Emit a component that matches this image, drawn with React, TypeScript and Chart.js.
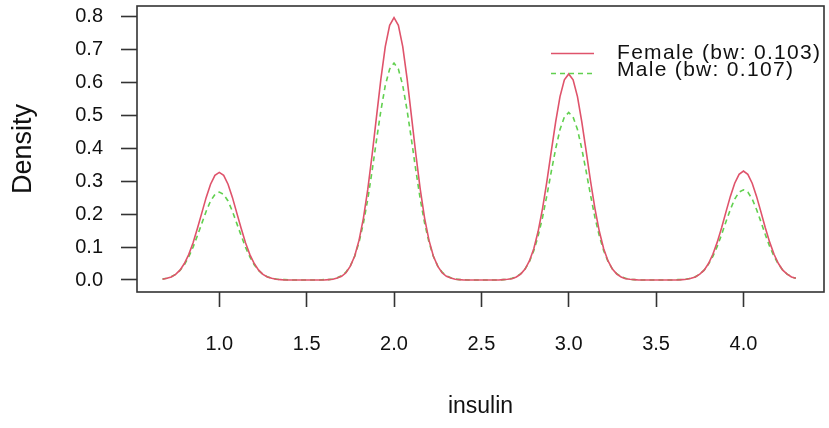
import React, { useEffect, useRef } from "react";
import { Chart, registerables } from "chart.js";

Chart.register(...registerables);

// Sampling grid of the density estimates (insulin)
const xGrid = [
  0.675, 0.7, 0.725, 0.75, 0.775, 0.8, 0.825, 0.85, 0.875, 0.9,
  0.925, 0.95, 0.975, 1.0, 1.025, 1.05, 1.075, 1.1, 1.125, 1.15,
  1.175, 1.2, 1.225, 1.25, 1.275, 1.3, 1.325, 1.35, 1.375, 1.4,
  1.425, 1.45, 1.475, 1.5, 1.525, 1.55, 1.575, 1.6, 1.625, 1.65,
  1.675, 1.7, 1.725, 1.75, 1.775, 1.8, 1.825, 1.85, 1.875, 1.9,
  1.925, 1.95, 1.975, 2.0, 2.025, 2.05, 2.075, 2.1, 2.125, 2.15,
  2.175, 2.2, 2.225, 2.25, 2.275, 2.3, 2.325, 2.35, 2.375, 2.4,
  2.425, 2.45, 2.475, 2.5, 2.525, 2.55, 2.575, 2.6, 2.625, 2.65,
  2.675, 2.7, 2.725, 2.75, 2.775, 2.8, 2.825, 2.85, 2.875, 2.9,
  2.925, 2.95, 2.975, 3.0, 3.025, 3.05, 3.075, 3.1, 3.125, 3.15,
  3.175, 3.2, 3.225, 3.25, 3.275, 3.3, 3.325, 3.35, 3.375, 3.4,
  3.425, 3.45, 3.475, 3.5, 3.525, 3.55, 3.575, 3.6, 3.625, 3.65,
  3.675, 3.7, 3.725, 3.75, 3.775, 3.8, 3.825, 3.85, 3.875, 3.9,
  3.925, 3.95, 3.975, 4.0, 4.025, 4.05, 4.075, 4.1, 4.125, 4.15,
  4.175, 4.2, 4.225, 4.25, 4.275, 4.3,
];

// Female density (solid)
const female = [
  0.002, 0.005, 0.009, 0.017, 0.03, 0.05, 0.077, 0.113, 0.157, 0.204,
  0.251, 0.291, 0.318, 0.327, 0.318, 0.291, 0.251, 0.204, 0.157, 0.113,
  0.077, 0.05, 0.03, 0.017, 0.009, 0.005, 0.002, 0.001, 0, 0,
  0, 0, 0, 0, 0, 0, 0, 0, 0.001, 0.002,
  0.006, 0.011, 0.022, 0.042, 0.073, 0.121, 0.188, 0.276, 0.382, 0.497,
  0.611, 0.709, 0.774, 0.797, 0.774, 0.709, 0.611, 0.497, 0.382, 0.276,
  0.188, 0.121, 0.073, 0.042, 0.022, 0.011, 0.006, 0.002, 0.001, 0,
  0, 0, 0, 0, 0, 0, 0, 0, 0.001, 0.002,
  0.004, 0.009, 0.018, 0.033, 0.058, 0.095, 0.148, 0.217, 0.3, 0.391,
  0.48, 0.557, 0.608, 0.626, 0.608, 0.557, 0.48, 0.391, 0.3, 0.217,
  0.148, 0.095, 0.058, 0.033, 0.018, 0.009, 0.004, 0.002, 0.001, 0,
  0, 0, 0, 0, 0, 0, 0, 0, 0, 0.001,
  0.002, 0.005, 0.009, 0.018, 0.03, 0.05, 0.078, 0.115, 0.159, 0.207,
  0.254, 0.294, 0.321, 0.331, 0.321, 0.294, 0.254, 0.207, 0.159, 0.115,
  0.078, 0.05, 0.03, 0.018, 0.009, 0.005,
];

// Male density (dashed)
const male = [
  0.003, 0.005, 0.01, 0.017, 0.029, 0.046, 0.07, 0.1, 0.135, 0.172,
  0.209, 0.24, 0.26, 0.267, 0.26, 0.24, 0.209, 0.172, 0.135, 0.1,
  0.07, 0.046, 0.029, 0.017, 0.01, 0.005, 0.003, 0.001, 0.001, 0,
  0, 0, 0, 0, 0, 0, 0, 0.001, 0.001, 0.003,
  0.007, 0.013, 0.024, 0.043, 0.072, 0.115, 0.173, 0.246, 0.333, 0.426,
  0.515, 0.591, 0.641, 0.659, 0.641, 0.591, 0.515, 0.426, 0.333, 0.246,
  0.173, 0.115, 0.072, 0.043, 0.024, 0.013, 0.007, 0.003, 0.001, 0.001,
  0, 0, 0, 0, 0, 0, 0, 0, 0.001, 0.002,
  0.005, 0.01, 0.019, 0.033, 0.056, 0.089, 0.134, 0.19, 0.257, 0.329,
  0.398, 0.457, 0.495, 0.509, 0.495, 0.457, 0.398, 0.329, 0.257, 0.19,
  0.134, 0.089, 0.056, 0.033, 0.019, 0.01, 0.005, 0.002, 0.001, 0,
  0, 0, 0, 0, 0, 0, 0, 0, 0.001, 0.001,
  0.003, 0.005, 0.01, 0.018, 0.03, 0.048, 0.072, 0.102, 0.138, 0.177,
  0.214, 0.246, 0.267, 0.274, 0.267, 0.246, 0.214, 0.177, 0.138, 0.102,
  0.072, 0.048, 0.03, 0.018, 0.01, 0.005,
];

const seriesLabels = ["Female (bw: 0.103)", "Male (bw: 0.107)"];
const xTicks = [1.0, 1.5, 2.0, 2.5, 3.0, 3.5, 4.0];
const yTicks = [0, 0.1, 0.2, 0.3, 0.4, 0.5, 0.6, 0.7, 0.8];
const xTitle = "insulin";
const yTitle = "Density";

const FONT = "'Liberation Sans', Arial, sans-serif";
const INK = "#111111";
const AXIS = "#333333";
const RED = "#DF536B";
const GREEN = "#61D04F";

export default function App() {
  const ref = useRef<HTMLCanvasElement>(null);

  useEffect(() => {
    if (!ref.current) return;

    const boxPlugin = {
      id: "rbox",
      afterDraw(chart: any) {
        const { ctx, chartArea: a } = chart;
        ctx.save();
        ctx.strokeStyle = AXIS;
        ctx.lineWidth = 1.6;
        ctx.strokeRect(a.left, a.top, a.right - a.left, a.bottom - a.top);
        ctx.restore();
      },
    };

    const legendPlugin = {
      id: "rlegend",
      afterDraw(chart: any) {
        const ctx = chart.ctx;
        const lineYs = [53.5, 73.5];
        const textYs = [53.5, 70];
        chart.data.datasets.forEach((ds: any, i: number) => {
          ctx.save();
          ctx.strokeStyle = ds.borderColor;
          ctx.lineWidth = ds.borderWidth;
          ctx.setLineDash(ds.borderDash || []);
          ctx.beginPath();
          ctx.moveTo(551, lineYs[i]);
          ctx.lineTo(594, lineYs[i]);
          ctx.stroke();
          ctx.setLineDash([]);
          ctx.fillStyle = INK;
          ctx.font = `21px ${FONT}`;
          (ctx as any).letterSpacing = "1.3px";
          ctx.textBaseline = "middle";
          ctx.textAlign = "left";
          ctx.fillText(ds.label, 617, textYs[i]);
          ctx.restore();
        });
      },
    };

    const chart = new Chart(ref.current, {
      type: "line",
      data: {
        datasets: [
          {
            label: seriesLabels[0],
            data: xGrid.map((x, i) => ({ x, y: female[i] })),
            borderColor: RED,
            borderWidth: 1.6,
            pointRadius: 0,
            fill: false,
            tension: 0,
          },
          {
            label: seriesLabels[1],
            data: xGrid.map((x, i) => ({ x, y: male[i] })),
            borderColor: GREEN,
            borderWidth: 1.6,
            borderDash: [5, 4],
            pointRadius: 0,
            fill: false,
            tension: 0,
          },
        ],
      },
      options: {
        responsive: false,
        animation: false,
        devicePixelRatio: 1,
        layout: { padding: { top: 6, right: 5, left: 0, bottom: 0 } },
        plugins: {
          legend: { display: false },
          tooltip: { enabled: false },
        },
        scales: {
          x: {
            type: "linear",
            min: 0.529,
            max: 4.461,
            afterBuildTicks: (axis: any) => {
              axis.ticks = xTicks.map((v) => ({ value: v }));
            },
            afterFit: (scale: any) => {
              scale.height = 136;
              scale.paddingLeft = 0;
              scale.paddingRight = 0;
            },
            ticks: {
              autoSkip: false,
              maxRotation: 0,
              padding: 25,
              color: INK,
              font: { family: FONT, size: 20 },
              callback: (v: any) => Number(v).toFixed(1),
            },
            grid: {
              display: true,
              drawOnChartArea: false,
              drawTicks: true,
              tickLength: 15,
              tickColor: AXIS,
              tickWidth: 1.6,
            },
            border: { display: false },
            title: {
              display: true,
              text: xTitle,
              color: INK,
              font: { family: FONT, size: 23 },
              padding: { top: 0, bottom: 8 },
            },
          },
          y: {
            type: "linear",
            min: -0.0365,
            max: 0.8325,
            afterBuildTicks: (axis: any) => {
              axis.ticks = yTicks.map((v) => ({ value: v }));
            },
            afterFit: (scale: any) => {
              scale.width = 137;
              scale.paddingTop = 0;
              scale.paddingBottom = 0;
            },
            ticks: {
              autoSkip: false,
              padding: 18,
              color: INK,
              font: { family: FONT, size: 20 },
              callback: (v: any) => Number(v).toFixed(1),
            },
            grid: {
              display: true,
              drawOnChartArea: false,
              drawTicks: true,
              tickLength: 16,
              tickColor: AXIS,
              tickWidth: 1.6,
            },
            border: { display: false },
            title: {
              display: true,
              text: yTitle,
              color: INK,
              font: { family: FONT, size: 27 },
              padding: { top: 7, bottom: 0 },
            },
          },
        },
      },
      plugins: [boxPlugin, legendPlugin],
    });

    return () => chart.destroy();
  }, []);

  return (
    <div style={{ position: "absolute", left: 0, top: 0, width: 829, height: 428, background: "#fff" }}>
      <canvas ref={ref} width={829} height={428} style={{ width: 829, height: 428, display: "block" }} />
    </div>
  );
}
